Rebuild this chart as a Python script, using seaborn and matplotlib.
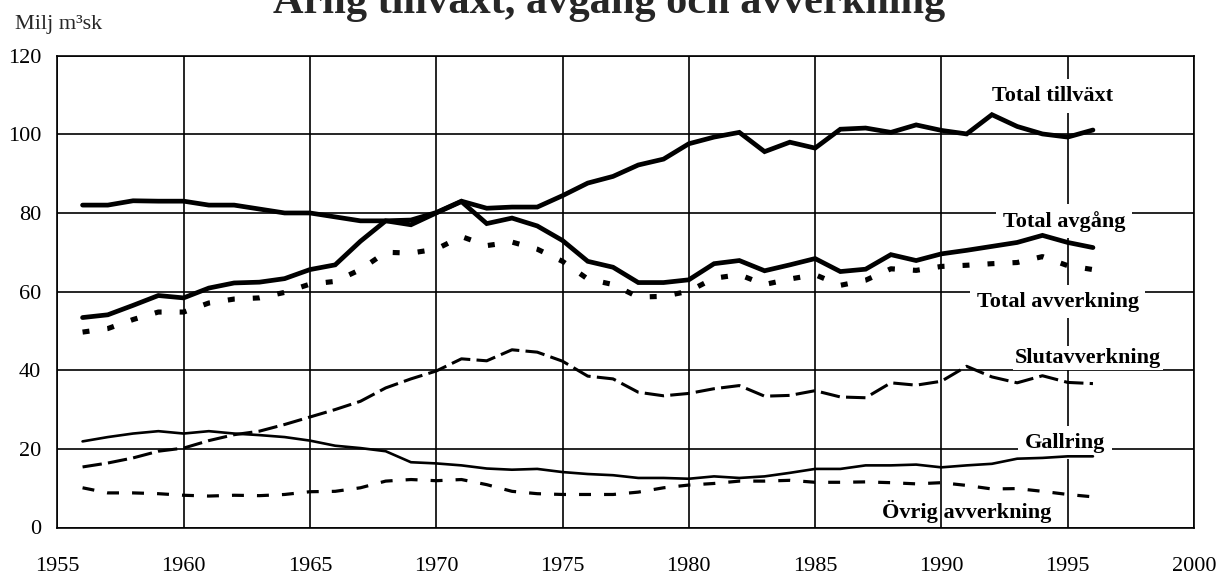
import matplotlib
matplotlib.use("Agg")
import matplotlib.pyplot as plt
import seaborn as sns
import pandas as pd

# ---------------- data ----------------
years = list(range(1956, 1997))

total_tillvaxt = [82.0, 82.0, 83.1, 83.0, 83.0, 82.0, 82.0, 81.0, 80.0, 80.0,
                  79.0, 78.0, 78.0, 78.2, 80.1, 83.0, 81.2, 81.5, 81.5, 84.4,
                  87.6, 89.3, 92.2, 93.7, 97.6, 99.3, 100.5, 95.6, 98.0, 96.5,
                  101.3, 101.6, 100.5, 102.4, 101.0, 100.1, 105.0, 102.0, 100.1, 99.3,
                  101.1]

total_avgang = [53.4, 54.1, 56.5, 59.0, 58.4, 60.9, 62.2, 62.4, 63.3, 65.6,
                66.8, 72.8, 78.0, 77.0, 80.0, 82.9, 77.3, 78.7, 76.7, 73.0,
                67.7, 66.2, 62.3, 62.3, 63.0, 67.1, 67.9, 65.3, 66.8, 68.4,
                65.1, 65.7, 69.4, 67.9, 69.6, 70.5, 71.5, 72.5, 74.3, 72.5,
                71.2]

total_avverkning = [49.7, 50.6, 52.9, 54.8, 54.8, 57.1, 58.1, 58.4, 59.8, 61.9,
                    62.6, 65.6, 70.0, 69.8, 70.8, 74.0, 71.7, 72.6, 70.8, 67.7,
                    63.2, 61.8, 58.6, 58.8, 60.1, 63.4, 64.3, 61.8, 63.2, 64.3,
                    61.6, 62.9, 65.8, 65.4, 66.4, 66.7, 67.1, 67.4, 68.9, 66.6,
                    65.6]

slutavverkning = [15.4, 16.4, 17.7, 19.4, 20.2, 22.1, 23.6, 24.5, 26.2, 28.1,
                  30.0, 32.1, 35.5, 37.8, 39.8, 42.9, 42.4, 45.2, 44.6, 42.3,
                  38.5, 37.8, 34.4, 33.5, 34.1, 35.3, 36.1, 33.4, 33.6, 34.8,
                  33.2, 33.0, 36.8, 36.2, 37.2, 41.0, 38.3, 36.8, 38.6, 36.9,
                  36.6]

gallring = [21.9, 23.0, 23.9, 24.5, 23.9, 24.5, 23.9, 23.5, 23.0, 22.1,
            20.8, 20.2, 19.4, 16.6, 16.3, 15.8, 15.0, 14.7, 14.9, 14.1,
            13.6, 13.3, 12.6, 12.6, 12.4, 13.0, 12.6, 13.0, 13.9, 14.9,
            14.9, 15.8, 15.8, 16.0, 15.3, 15.8, 16.2, 17.5, 17.7, 18.1,
            18.1]

ovrig_avverkning = [10.1, 8.8, 8.8, 8.6, 8.2, 8.0, 8.2, 8.1, 8.4, 9.1,
                    9.2, 10.1, 11.8, 12.2, 11.9, 12.2, 10.9, 9.2, 8.6, 8.4,
                    8.4, 8.4, 9.0, 10.1, 10.8, 11.2, 11.8, 11.8, 12.0, 11.5,
                    11.5, 11.6, 11.4, 11.1, 11.4, 10.7, 9.8, 9.9, 9.2, 8.4,
                    7.8]

series_names = ["Total tillväxt", "Total avgång", "Total avverkning",
                "Slutavverkning", "Gallring", "Övrig avverkning"]
series_values = [total_tillvaxt, total_avgang, total_avverkning,
                 slutavverkning, gallring, ovrig_avverkning]

x_ticks = [1955, 1960, 1965, 1970, 1975, 1980, 1985, 1990, 1995, 2000]
y_ticks = [0, 20, 40, 60, 80, 100, 120]

title = "Årlig tillväxt, avgång och avverkning"
unit_label = "Milj m³sk"

# ---------------- styling ----------------
sns.set_style("white")
plt.rcParams["font.family"] = ["Liberation Serif", "DejaVu Serif"]
plt.rcParams["lines.scale_dashes"] = False

styles = {
    "Total tillväxt": dict(lw=3.4, ls="-"),
    "Total avgång": dict(lw=3.4, ls="-"),
    "Total avverkning": dict(lw=3.7, ls=(0, (5.0, 13.0))),
    "Slutavverkning": dict(lw=2.2, ls=(0, (14.0, 4.5))),
    "Gallring": dict(lw=1.9, ls="-"),
    "Övrig avverkning": dict(lw=2.3, ls=(0, (8.6, 9.4))),
}

# label positions (data coords, baseline) and whether boxed
label_pos = {
    "Total tillväxt": (1994.4, 108.5, True, 0.3),
    "Total avgång": (1994.85, 76.5, True, 0.3),
    "Total avverkning": (1994.6, 56.2, True, 0.3),
    "Slutavverkning": (1995.8, 41.9, True, 0.1),
    "Gallring": (1994.9, 20.3, True, 0.3),
    "Övrig avverkning": (1991.0, 2.5, False, 0.0),
}

W, H = 1219, 576
fig = plt.figure(figsize=(W / 100, H / 100), dpi=100)
left, right, top, bottom = 57.3, 1194.0, 55.7, 527.5
ax = fig.add_axes([left / W, 1 - bottom / H, (right - left) / W, (bottom - top) / H])

rows = []
for name, vals in zip(series_names, series_values):
    for yr, v in zip(years, vals):
        rows.append({"År": yr, "Värde": v, "Serie": name})
df = pd.DataFrame(rows)

for name in series_names:
    st = styles[name]
    sub = df[df["Serie"] == name]
    sns.lineplot(data=sub, x="År", y="Värde", ax=ax, color="black",
                 linewidth=st["lw"], linestyle=st["ls"], zorder=2,
                 solid_joinstyle="miter", dash_capstyle="butt")

ax.set_xlim(1955, 2000)
ax.set_ylim(0, 120)
ax.set_xticks(x_ticks)
ax.set_yticks(y_ticks)
ax.set_xticklabels([str(t) for t in x_ticks])
ax.set_yticklabels([str(t) for t in y_ticks])
ax.set_xlabel("")
ax.set_ylabel("")
ax.grid(True, color="black", linewidth=1.2)
ax.set_axisbelow(True)
for sp in ax.spines.values():
    sp.set_visible(True)
    sp.set_color("black")
    sp.set_linewidth(1.2)
ax.tick_params(axis="both", direction="out", length=5, width=1.2,
               colors="black", labelsize=16)
ax.tick_params(axis="x", pad=16.5)
ax.tick_params(axis="y", pad=6.5)

for name in series_names:
    x, y, boxed, pad = label_pos[name]
    kw = dict(ha="center", va="baseline", fontsize=16, fontweight="bold",
              color="black", zorder=1.5)
    if boxed:
        kw["bbox"] = dict(boxstyle=f"square,pad={pad}", fc="white", ec="none")
    ax.text(x, y, name, **kw)

fig.text(0.5, 1 - 13 / H, title, ha="center", va="baseline",
         fontsize=30.5, fontweight="bold")
fig.text(15 / W, 1 - 29 / H, unit_label, ha="left", va="baseline", fontsize=16)

fig.savefig("out.png", dpi=100, facecolor="white")
